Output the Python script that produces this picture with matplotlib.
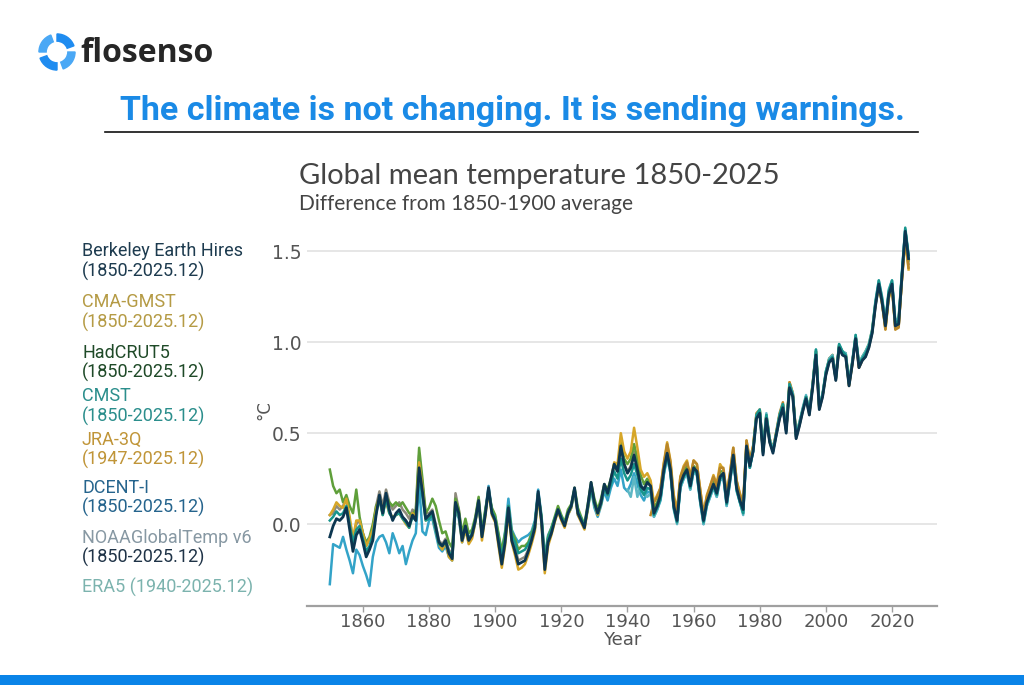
import matplotlib.pyplot as plt
from matplotlib.patches import Wedge, Rectangle
import numpy as np

W, H = 1024, 685

years = np.arange(1850, 2026)
years_era5 = np.arange(1940, 2026)
years_jra = np.arange(1947, 2026)

berkeley = [
    -0.07, -0.01, 0.03, 0.02, 0.04, 0.09, -0.03, -0.15, -0.06, -0.03,
    -0.10, -0.18, -0.14, -0.09, 0.05, 0.16, 0.06, 0.17, 0.08, 0.02,
    0.06, 0.08, 0.04, 0.02, -0.01, 0.05, 0.02, 0.31, 0.18, 0.03,
    0.05, 0.07, -0.01, -0.10, -0.12, -0.09, -0.16, -0.19, 0.12, 0.06,
    -0.09, -0.01, -0.09, -0.06, 0.02, 0.13, -0.07, 0.05, 0.20, 0.06,
    0.02, -0.10, -0.22, -0.10, 0.09, -0.09, -0.15, -0.22, -0.21, -0.20,
    -0.15, -0.09, -0.02, 0.18, 0.02, -0.25, -0.10, -0.05, 0.02, 0.08,
    0.03, -0.01, 0.06, 0.10, 0.20, 0.06, 0.02, -0.02, 0.10, 0.23,
    0.12, 0.06, 0.12, 0.22, 0.17, 0.25, 0.33, 0.29, 0.43, 0.33,
    0.28, 0.31, 0.38, 0.30, 0.21, 0.19, 0.23, 0.21, 0.06, 0.10,
    0.16, 0.30, 0.39, 0.30, 0.10, 0.02, 0.22, 0.27, 0.30, 0.21,
    0.31, 0.29, 0.14, 0.02, 0.12, 0.17, 0.22, 0.17, 0.26, 0.28,
    0.12, 0.25, 0.38, 0.20, 0.13, 0.08, 0.43, 0.32, 0.40, 0.58,
    0.61, 0.38, 0.58, 0.45, 0.39, 0.49, 0.58, 0.64, 0.50, 0.75,
    0.70, 0.47, 0.54, 0.62, 0.69, 0.60, 0.75, 0.93, 0.63, 0.70,
    0.82, 0.89, 0.91, 0.79, 0.97, 0.93, 0.92, 0.76, 0.88, 1.02,
    0.86, 0.90, 0.92, 0.97, 1.05, 1.20, 1.32, 1.22, 1.09, 1.26,
    1.32, 1.09, 1.10, 1.36, 1.61, 1.46,
]

cma_gmst = [
    0.05, 0.08, 0.12, 0.10, 0.09, 0.14, 0.04, -0.08, 0.02, 0.02,
    -0.05, -0.12, -0.08, -0.03, 0.08, 0.15, 0.08, 0.12, 0.06, 0.04,
    0.05, 0.06, 0.03, 0.00, -0.02, 0.06, 0.04, 0.34, 0.20, 0.02,
    0.04, 0.05, -0.03, -0.11, -0.14, -0.10, -0.18, -0.20, 0.10, 0.05,
    -0.10, -0.03, -0.11, -0.08, 0.01, 0.12, -0.09, 0.04, 0.18, 0.05,
    0.01, -0.12, -0.24, -0.12, 0.06, -0.10, -0.17, -0.25, -0.24, -0.22,
    -0.17, -0.11, -0.04, 0.15, 0.00, -0.27, -0.12, -0.06, 0.01, 0.07,
    0.02, -0.02, 0.05, 0.09, 0.19, 0.05, 0.01, -0.03, 0.08, 0.21,
    0.11, 0.05, 0.11, 0.21, 0.16, 0.24, 0.34, 0.33, 0.50, 0.40,
    0.36, 0.40, 0.53, 0.42, 0.30, 0.26, 0.28, 0.24, 0.12, 0.16,
    0.20, 0.34, 0.45, 0.35, 0.16, 0.08, 0.26, 0.32, 0.35, 0.26,
    0.35, 0.33, 0.19, 0.05, 0.16, 0.21, 0.27, 0.22, 0.33, 0.30,
    0.17, 0.28, 0.42, 0.24, 0.17, 0.12, 0.46, 0.35, 0.43, 0.60,
    0.63, 0.40, 0.60, 0.47, 0.41, 0.50, 0.60, 0.66, 0.52, 0.78,
    0.72, 0.49, 0.55, 0.63, 0.70, 0.62, 0.77, 0.95, 0.64, 0.71,
    0.83, 0.90, 0.93, 0.81, 0.98, 0.95, 0.93, 0.77, 0.89, 1.03,
    0.87, 0.91, 0.93, 0.98, 1.06, 1.21, 1.31, 1.21, 1.07, 1.24,
    1.30, 1.07, 1.09, 1.34, 1.56, 1.40,
]

hadcrut5 = [
    0.30, 0.21, 0.17, 0.19, 0.12, 0.16, 0.10, 0.06, 0.19, 0.04,
    -0.05, -0.10, -0.07, 0.00, 0.10, 0.14, 0.05, 0.15, 0.12, 0.10,
    0.12, 0.10, 0.12, 0.09, 0.06, 0.05, 0.08, 0.42, 0.25, 0.06,
    0.09, 0.14, 0.10, 0.02, -0.05, -0.04, -0.10, -0.13, 0.14, 0.08,
    -0.05, 0.03, -0.05, -0.03, 0.04, 0.15, -0.04, 0.08, 0.18, 0.09,
    0.05, -0.05, -0.15, -0.05, 0.10, -0.04, -0.08, -0.14, -0.12, -0.12,
    -0.10, -0.05, 0.00, 0.17, 0.04, -0.20, -0.07, -0.02, 0.04, 0.10,
    0.05, 0.01, 0.08, 0.11, 0.20, 0.09, 0.04, 0.00, 0.11, 0.23,
    0.14, 0.08, 0.14, 0.22, 0.19, 0.25, 0.33, 0.31, 0.45, 0.36,
    0.33, 0.36, 0.44, 0.36, 0.27, 0.22, 0.25, 0.22, 0.09, 0.12,
    0.18, 0.31, 0.40, 0.32, 0.13, 0.05, 0.24, 0.29, 0.32, 0.23,
    0.32, 0.30, 0.16, 0.04, 0.14, 0.19, 0.24, 0.19, 0.29, 0.29,
    0.14, 0.26, 0.40, 0.22, 0.15, 0.10, 0.44, 0.33, 0.42, 0.59,
    0.62, 0.40, 0.59, 0.46, 0.41, 0.50, 0.59, 0.65, 0.52, 0.76,
    0.71, 0.49, 0.56, 0.63, 0.70, 0.62, 0.76, 0.94, 0.65, 0.71,
    0.83, 0.91, 0.92, 0.80, 0.98, 0.94, 0.94, 0.78, 0.89, 1.03,
    0.88, 0.92, 0.95, 0.99, 1.07, 1.22, 1.31, 1.23, 1.11, 1.27,
    1.31, 1.11, 1.13, 1.37, 1.58, 1.45,
]

cmst = [
    0.02, 0.04, 0.07, 0.05, 0.06, 0.10, 0.00, -0.10, -0.03, -0.01,
    -0.08, -0.15, -0.12, -0.06, 0.06, 0.14, 0.05, 0.14, 0.06, 0.03,
    0.05, 0.06, 0.03, 0.01, -0.02, 0.04, 0.02, 0.28, 0.15, 0.02,
    0.03, 0.05, -0.03, -0.11, -0.12, -0.10, -0.15, -0.18, 0.10, 0.05,
    -0.08, -0.02, -0.08, -0.05, 0.02, 0.12, -0.06, 0.06, 0.19, 0.07,
    0.03, -0.08, -0.18, -0.08, 0.10, -0.06, -0.10, -0.16, -0.15, -0.14,
    -0.11, -0.07, 0.00, 0.17, 0.03, -0.21, -0.08, -0.03, 0.03, 0.08,
    0.04, 0.00, 0.06, 0.10, 0.19, 0.07, 0.03, -0.01, 0.09, 0.20,
    0.11, 0.06, 0.11, 0.20, 0.16, 0.22, 0.29, 0.25, 0.36, 0.28,
    0.24, 0.27, 0.33, 0.27, 0.19, 0.16, 0.20, 0.19, 0.05, 0.09,
    0.14, 0.28, 0.38, 0.29, 0.09, 0.01, 0.21, 0.26, 0.29, 0.20,
    0.30, 0.28, 0.13, 0.01, 0.11, 0.16, 0.21, 0.16, 0.25, 0.27,
    0.11, 0.24, 0.37, 0.19, 0.12, 0.06, 0.42, 0.31, 0.40, 0.60,
    0.63, 0.40, 0.60, 0.46, 0.40, 0.50, 0.60, 0.66, 0.52, 0.77,
    0.71, 0.48, 0.55, 0.63, 0.70, 0.62, 0.76, 0.96, 0.65, 0.71,
    0.84, 0.90, 0.92, 0.80, 0.99, 0.95, 0.93, 0.77, 0.89, 1.04,
    0.88, 0.91, 0.94, 0.98, 1.06, 1.22, 1.34, 1.24, 1.10, 1.28,
    1.34, 1.10, 1.12, 1.38, 1.63, 1.48,
]

jra_3q = [
    0.05, 0.12, 0.15,
    0.20, 0.33, 0.44, 0.34, 0.14, 0.06, 0.26, 0.31, 0.34, 0.26,
    0.35, 0.33, 0.19, 0.06, 0.15, 0.21, 0.26, 0.21, 0.31, 0.31,
    0.16, 0.28, 0.42, 0.24, 0.16, 0.11, 0.46, 0.35, 0.43, 0.61,
    0.63, 0.41, 0.60, 0.47, 0.41, 0.51, 0.61, 0.67, 0.52, 0.78,
    0.72, 0.49, 0.55, 0.63, 0.70, 0.61, 0.77, 0.95, 0.64, 0.71,
    0.83, 0.91, 0.93, 0.80, 0.98, 0.95, 0.93, 0.76, 0.88, 1.03,
    0.86, 0.90, 0.93, 0.98, 1.06, 1.21, 1.32, 1.22, 1.07, 1.25,
    1.31, 1.07, 1.08, 1.35, 1.57, 1.41,
]

dcent_i = [
    -0.33, -0.11, -0.12, -0.13, -0.07, -0.14, -0.20, -0.27, -0.14, -0.17,
    -0.23, -0.28, -0.34, -0.18, -0.10, -0.07, -0.06, -0.10, -0.16, -0.05,
    -0.10, -0.16, -0.12, -0.22, -0.15, -0.09, -0.05, 0.22, -0.04, -0.06,
    0.02, 0.03, -0.05, -0.13, -0.15, -0.12, -0.18, -0.20, 0.08, 0.03,
    -0.10, -0.03, -0.10, -0.07, 0.01, 0.12, -0.06, 0.07, 0.21, 0.08,
    0.04, -0.06, -0.15, -0.04, 0.14, -0.03, -0.07, -0.10, -0.08, -0.07,
    -0.06, -0.04, 0.02, 0.19, 0.05, -0.18, -0.06, -0.02, 0.03, 0.07,
    0.03, 0.00, 0.05, 0.09, 0.18, 0.05, 0.02, -0.01, 0.08, 0.19,
    0.09, 0.04, 0.10, 0.18, 0.13, 0.20, 0.25, 0.21, 0.30, 0.20,
    0.18, 0.22, 0.28, 0.22, 0.16, 0.13, 0.18, 0.17, 0.04, 0.08,
    0.13, 0.27, 0.37, 0.28, 0.09, 0.01, 0.20, 0.25, 0.28, 0.19,
    0.29, 0.27, 0.12, 0.00, 0.10, 0.15, 0.20, 0.15, 0.24, 0.26,
    0.10, 0.23, 0.37, 0.19, 0.12, 0.06, 0.42, 0.31, 0.40, 0.59,
    0.62, 0.39, 0.59, 0.46, 0.40, 0.49, 0.59, 0.65, 0.51, 0.76,
    0.71, 0.48, 0.55, 0.63, 0.70, 0.61, 0.76, 0.95, 0.64, 0.71,
    0.83, 0.90, 0.92, 0.80, 0.98, 0.94, 0.93, 0.77, 0.89, 1.03,
    0.87, 0.91, 0.93, 0.98, 1.06, 1.21, 1.33, 1.23, 1.10, 1.27,
    1.33, 1.10, 1.11, 1.37, 1.62, 1.47,
]

noaa_v6 = [
    0.05, 0.06, 0.10, 0.08, 0.10, 0.14, 0.02, -0.08, 0.00, 0.02,
    -0.05, -0.12, -0.08, -0.03, 0.10, 0.18, 0.10, 0.19, 0.12, 0.08,
    0.10, 0.12, 0.08, 0.06, 0.03, 0.08, 0.06, 0.38, 0.22, 0.06,
    0.06, 0.08, 0.00, -0.09, -0.11, -0.08, -0.14, -0.17, 0.17, 0.08,
    -0.07, 0.00, -0.08, -0.05, 0.03, 0.14, -0.06, 0.06, 0.20, 0.07,
    0.03, -0.09, -0.20, -0.09, 0.09, -0.08, -0.13, -0.20, -0.19, -0.18,
    -0.14, -0.08, -0.01, 0.17, 0.02, -0.23, -0.09, -0.04, 0.02, 0.08,
    0.03, 0.00, 0.06, 0.10, 0.19, 0.06, 0.02, -0.02, 0.09, 0.22,
    0.12, 0.06, 0.12, 0.21, 0.17, 0.24, 0.32, 0.29, 0.42, 0.33,
    0.29, 0.32, 0.40, 0.31, 0.22, 0.19, 0.23, 0.21, 0.07, 0.11,
    0.16, 0.30, 0.39, 0.30, 0.11, 0.03, 0.23, 0.27, 0.30, 0.21,
    0.31, 0.29, 0.14, 0.03, 0.12, 0.17, 0.22, 0.17, 0.27, 0.28,
    0.12, 0.25, 0.38, 0.20, 0.13, 0.08, 0.43, 0.32, 0.41, 0.58,
    0.61, 0.39, 0.58, 0.45, 0.40, 0.49, 0.58, 0.64, 0.51, 0.75,
    0.70, 0.47, 0.54, 0.62, 0.69, 0.60, 0.75, 0.93, 0.63, 0.70,
    0.82, 0.89, 0.91, 0.79, 0.97, 0.93, 0.92, 0.76, 0.88, 1.02,
    0.86, 0.90, 0.92, 0.97, 1.05, 1.20, 1.31, 1.21, 1.08, 1.25,
    1.31, 1.08, 1.09, 1.35, 1.58, 1.43,
]

era5 = [
    0.19, 0.15, 0.26, 0.15, 0.23, 0.17, 0.15, 0.17, 0.04, 0.08,
    0.14, 0.28, 0.37, 0.28, 0.08, 0.00, 0.20, 0.25, 0.28, 0.19,
    0.29, 0.27, 0.12, 0.00, 0.10, 0.15, 0.20, 0.15, 0.24, 0.26,
    0.10, 0.23, 0.36, 0.18, 0.12, 0.05, 0.42, 0.31, 0.41, 0.60,
    0.63, 0.41, 0.61, 0.47, 0.41, 0.50, 0.60, 0.66, 0.52, 0.77,
    0.72, 0.49, 0.56, 0.64, 0.71, 0.62, 0.77, 0.96, 0.65, 0.72,
    0.84, 0.91, 0.93, 0.81, 0.99, 0.95, 0.94, 0.78, 0.90, 1.04,
    0.88, 0.92, 0.95, 0.99, 1.07, 1.23, 1.34, 1.25, 1.11, 1.29,
    1.34, 1.12, 1.13, 1.39, 1.62, 1.47,
]

# drawing order: last one on top
series = [
    (years, dcent_i, '#33a3c8', 1.8),
    (years, noaa_v6, '#8d8a7c', 1.8),
    (years, hadcrut5, '#5f9f3a', 1.8),
    (years, cma_gmst, '#d6a628', 1.8),
    (years_jra, jra_3q, '#b8862a', 1.8),
    (years_era5, era5, '#5db7c4', 1.8),
    (years, cmst, '#17958c', 1.8),
    (years, berkeley, '#0c3650', 2.0),
]

legend_rows = [
    ("Berkeley Earth Hires", '#1d3b4f', 251),
    ("(1850-2025.12)", '#1d3b4f', 271),
    ("CMA-GMST", '#b59b45', 302),
    ("(1850-2025.12)", '#b59b45', 322),
    ("HadCRUT5", '#1f4a28', 353),
    ("(1850-2025.12)", '#1f4a28', 372),
    ("CMST", '#2b8e8c', 396),
    ("(1850-2025.12)", '#2b8e8c', 416),
    ("JRA-3Q", '#c09538', 440),
    ("(1947-2025.12)", '#c09538', 459),
    ("DCENT-I", '#25648d', 488),
    ("(1850-2025.12)", '#25648d', 507),
    ("NOAAGlobalTemp v6", '#8798a3', 538),
    ("(1850-2025.12)", '#1f3347', 557),
    ("ERA5 (1940-2025.12)", '#7cb3ae', 587),
]

xticks = [1860, 1880, 1900, 1920, 1940, 1960, 1980, 2000, 2020]
yticks = [0.0, 0.5, 1.0, 1.5]


def fx(px):
    return px / W


def fy(py):
    return 1 - py / H


fig = plt.figure(figsize=(W / 100, H / 100), dpi=100)
fig.patch.set_facecolor('white')

narrow = ['Liberation Sans Narrow', 'DejaVu Sans']

# chart
ax = fig.add_axes([fx(307), fy(606), (937 - 307) / W, (606 - 224) / H])
for xs, ys, col, lw in series:
    ax.plot(xs, ys, color=col, lw=lw, solid_joinstyle='round')

ax.set_xlim(1843.1, 2033.6)
ax.set_ylim(-0.45, 1.65)
ax.set_xticks(xticks)
ax.set_yticks(yticks)
ax.set_yticklabels(['%.1f' % v for v in yticks])
ax.grid(axis='y', color='#e2e2e2', lw=1.2)
ax.set_axisbelow(True)
for s in ['top', 'right', 'left']:
    ax.spines[s].set_visible(False)
ax.spines['bottom'].set_color('#a0a0a0')
ax.spines['bottom'].set_linewidth(1.6)
ax.tick_params(axis='y', length=0, pad=4, labelsize=13.5, labelcolor='#555555')
ax.tick_params(axis='x', length=4, width=1, color='#a0a0a0', pad=1,
               labelsize=13, labelcolor='#555555')
for lab in ax.get_xticklabels() + ax.get_yticklabels():
    lab.set_family(narrow)
ax.set_xlabel('Year', family=narrow, fontsize=13, color='#555555', labelpad=0)

fig.text(fx(264), fy(410), '°C', rotation=90, ha='center', va='center',
         fontsize=12, color='#555555')

# chart titles
fig.text(fx(299), fy(176), 'Global mean temperature 1850-2025', ha='left',
         va='center', fontsize=21, color='#444444', family='Lato')
fig.text(fx(299), fy(204), 'Difference from 1850-1900 average', ha='left',
         va='center', fontsize=15, color='#444444', family='Lato')

# legend on the left
for txt, col, ypx in legend_rows:
    fig.text(fx(82), fy(ypx), txt, ha='left', va='center', fontsize=13,
             color=col, family='Roboto')

# header
fig.text(fx(80), fy(53), 'flosenso', ha='left', va='center', fontsize=23,
         fontweight='bold', color='#262626', family='Open Sans')
logo_ax = fig.add_axes([fx(38), fy(71), 38 / W, 38 / H])
logo_ax.set_xlim(-1, 1)
logo_ax.set_ylim(-1, 1)
logo_ax.axis('off')
for k, a in enumerate([20, 110, 200, 290]):
    logo_ax.add_patch(Wedge((0, 0), 0.95, a, a + 70, width=0.38,
                            color=['#1f8cf0', '#4aa8f5', '#1f8cf0', '#4aa8f5'][k]))

fig.text(0.5, fy(111), 'The climate is not changing. It is sending warnings.',
         ha='center', va='center', fontsize=24.5, fontweight='bold',
         color='#1a8ae6', family='Roboto')
fig.add_artist(plt.Line2D([fx(105), fx(918)], [fy(132), fy(132)],
                          color='#111111', lw=1.2))

fig.add_artist(Rectangle((0, 0), 1, 10 / H, transform=fig.transFigure,
                         color='#0a84e8', lw=0))

fig.savefig('out.png', dpi=100, facecolor='white')
